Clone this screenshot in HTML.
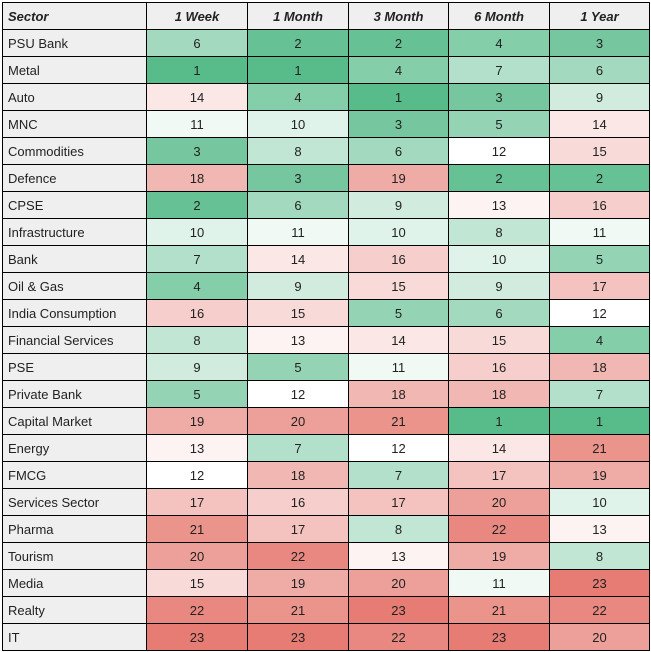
<!DOCTYPE html>
<html><head><meta charset="utf-8"><style>
body{margin:0;background:#fff;width:651px;height:652px;overflow:hidden;font-family:"Liberation Sans",Arial,sans-serif;}
#t{position:absolute;left:2px;top:2px;}
.c{position:absolute;box-sizing:border-box;border:1px solid #000;font-size:13px;color:#222;display:flex;align-items:center;justify-content:center;}
.s{justify-content:flex-start;padding-left:5px;background:#efefef;}
.h{background:#efefef;font-weight:bold;font-style:italic;}
</style></head><body>
<div id="t"></div>
<script>
const columns=["1 Week","1 Month","3 Month","6 Month","1 Year"];
const sectors=["PSU Bank","Metal","Auto","MNC","Commodities","Defence","CPSE","Infrastructure","Bank","Oil & Gas","India Consumption","Financial Services","PSE","Private Bank","Capital Market","Energy","FMCG","Services Sector","Pharma","Tourism","Media","Realty","IT"];
const week=[6,1,14,11,3,18,2,10,7,4,16,8,9,5,19,13,12,17,21,20,15,22,23];
const month=[2,1,4,10,8,3,6,11,14,9,15,13,5,12,20,7,18,16,17,22,19,21,23];
const month3=[2,4,1,3,6,19,9,10,16,15,5,14,11,18,21,12,7,17,8,13,20,23,22];
const month6=[4,7,3,5,12,2,13,8,10,9,6,15,16,18,1,14,17,20,22,19,11,21,23];
const year=[3,6,9,14,15,2,16,11,5,17,12,4,18,7,1,21,19,10,13,8,23,22,20];
const series=[week,month,month3,month6,year];
const xs=[0,144,245,346,446,547,647];
const rowH=27;
function color(v){
  const g=[87,187,138],w=[255,255,255],r=[230,124,115];
  let a,b,t;
  if(v<=12){a=g;b=w;t=(v-1)/11;}else{a=w;b=r;t=(v-12)/11;}
  return 'rgb('+a.map((x,i)=>Math.round(x+(b[i]-x)*t)).join(',')+')';
}
const T=document.getElementById('t');
function cell(x0,x1,row,txt,cls,bg){
  const d=document.createElement('div');
  d.className='c '+cls;
  d.style.left=x0+'px';d.style.top=(row*rowH)+'px';
  d.style.width=(x1-x0+1)+'px';d.style.height=(rowH+1)+'px';
  if(bg)d.style.background=bg;
  d.textContent=txt;
  T.appendChild(d);
  return d;
}
let hd=cell(xs[0],xs[1],0,'Sector','h s');


columns.forEach((c,j)=>{
  const d=cell(xs[j+1],xs[j+2],0,c,'h');
  
  
});
sectors.forEach((s,i)=>{
  const d=cell(xs[0],xs[1],i+1,s,'s');
  
  
  series.forEach((arr,j)=>{
    const e=cell(xs[j+1],xs[j+2],i+1,arr[i],'',color(arr[i]));
    
    
  });
});
</script>
</body></html>
